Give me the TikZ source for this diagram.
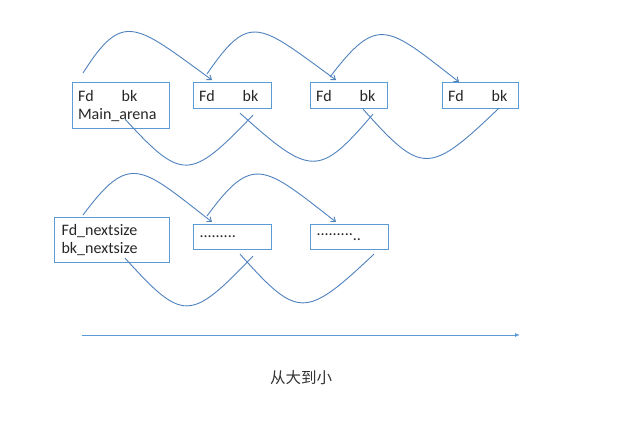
\documentclass[tikz,border=0pt]{standalone}
\usepackage{fontspec}
\setmainfont{Carlito}
\newfontfamily\cjk{Noto Sans CJK SC}
\usetikzlibrary{arrows.meta,calc}
\definecolor{boxblue}{HTML}{5B9BD5}
\definecolor{linkblue}{HTML}{4F81BD}
\newcommand{\fdbk}{Fd\hspace{28pt}bk}
\newcommand{\chunkfont}{\fontsize{16}{18}\selectfont}

\begin{document}
\begin{tikzpicture}[x=1pt,y=-1pt,
  chunk/.style={draw=boxblue,line width=1.1pt,anchor=north west,inner xsep=5.5pt,inner ysep=0pt,align=left,font=\chunkfont,text=black!85},
  fwd/.style={linkblue,line width=0.9pt,-{Straight Barb[length=4pt,width=6pt]}},
  bwd/.style={linkblue,line width=0.9pt}]
\useasboundingbox (0,0) rectangle (644,422);
% first row: main_arena and its chunks
\node[chunk,text width=86pt,minimum height=46pt] (arena) at (72,82) {\fdbk\\Main\_arena};
\node[chunk,text width=67pt,minimum height=26pt] (bin1) at (193,82) {\fdbk};
\node[chunk,text width=66pt,minimum height=26pt] (bin2) at (310,82) {\fdbk};
\node[chunk,text width=65pt,minimum height=26pt] (bin3) at (442,82) {\fdbk};
% fd links
\draw[fwd] ($(arena.north west)+(11,-9)$) .. controls +(40,-63) and +(-77,-56) .. ($(bin1.north west)+(19,-2)$);
\draw[fwd] ($(bin1.north west)+(14,-8)$) .. controls +(43,-63) and +(-77,-56) .. ($(bin2.north west)+(26,-2)$);
\draw[fwd] ($(bin2.north west)+(20,-5)$) .. controls +(48,-63) and +(-72,-56) .. ($(bin3.north west)+(17,0)$);
% bk links
\draw[bwd] ($(bin1.south west)+(60,6)$) .. controls +(-63,66) and +(57,62) .. ($(arena.south west)+(53,-10)$);
\draw[bwd] ($(bin2.south west)+(63,5)$) .. controls +(-54,63) and +(71,64) .. ($(bin1.south west)+(47,4)$);
\draw[bwd] ($(bin3.south west)+(57,-1)$) .. controls +(-70,67) and +(59,66) .. ($(bin2.south west)+(53,0)$);
% second row: nextsize list
\node[chunk,inner xsep=7pt,text width=101pt,minimum height=45pt] (nsz) at (54,217) {Fd\_nextsize\\bk\_nextsize};
\node[chunk,inner xsep=6pt,text width=66pt,minimum height=25pt] (dots1) at (193,224) {.........};
\node[chunk,inner xsep=6pt,text width=66pt,minimum height=25pt] (dots2) at (310,224) {.........\raisebox{-5pt}{..}};
\draw[fwd] ($(nsz.north west)+(29,-2)$) .. controls +(47,-63) and +(-72,-56) .. ($(dots1.north west)+(19,-2)$);
\draw[fwd] ($(dots1.north west)+(14,-8)$) .. controls +(46,-63) and +(-72,-56) .. ($(dots2.north west)+(26,-2)$);
\draw[bwd] ($(dots1.south west)+(60,6)$) .. controls +(-63,66) and +(58,64) .. ($(nsz.south west)+(71,-5)$);
\draw[bwd] ($(dots2.south west)+(64,4)$) .. controls +(-69,65) and +(58,65) .. ($(dots1.south west)+(47,4)$);
% size order
\coordinate (big) at (82,335);
\coordinate (small) at (520,335);
\draw[boxblue,line width=1pt,-{Latex[length=5pt,width=4pt]}] (big) -- (small);
\node[font=\cjk\fontsize{15.5}{18}\selectfont,text=black!80] (order) at (301,378) {从大到小};
\end{tikzpicture}
\end{document}
